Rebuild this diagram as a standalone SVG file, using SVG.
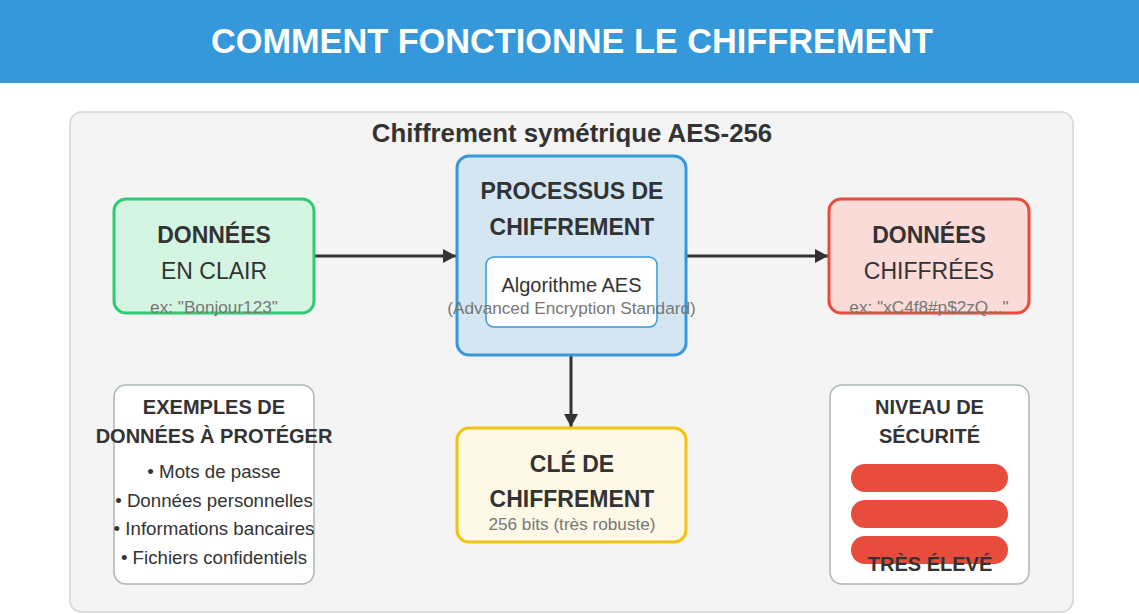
<svg xmlns="http://www.w3.org/2000/svg" width="1139" height="614" viewBox="0 0 1139 614">
<defs>
<marker id="ah" markerWidth="14" markerHeight="14" refX="13" refY="7" orient="auto" markerUnits="userSpaceOnUse"><path d="M0,0 L13,7 L0,14 Z" fill="#333"/></marker>
<style>
text{font-family:"Liberation Sans",Arial,sans-serif;text-anchor:middle;fill:#333}
.b{font-weight:bold}
.t22{font-size:23px}
.h20{font-size:20px}
.t18{font-size:18.7px}
.t16{font-size:17.2px}
.g{fill:#777}
.conn{stroke:#333;stroke-width:3;fill:none}
.card{fill:#fff;stroke:#aab5b6;stroke-width:1.5}
</style>
</defs>
<rect width="1139" height="614" fill="#fff"/>
<rect x="0" y="0" width="1139" height="83" fill="#3498db"/>
<text x="572" y="53" class="b" style="font-size:34.3px;fill:#fff">COMMENT FONCTIONNE LE CHIFFREMENT</text>
<rect x="70" y="112" width="1003" height="500" rx="12" fill="#f4f4f4" stroke="#ddd" stroke-width="2"/>
<text x="572" y="142" class="b" style="font-size:25.8px">Chiffrement symétrique AES-256</text>
<g id="connectors">
<line x1="314" y1="256" x2="456" y2="256" class="conn" marker-end="url(#ah)"/>
<line x1="686" y1="256" x2="828" y2="256" class="conn" marker-end="url(#ah)"/>
<line x1="571" y1="355" x2="571" y2="427" class="conn" marker-end="url(#ah)"/>
</g>
<g id="clair">
<rect x="114" y="199" width="200" height="114" rx="12" fill="#d5f5e3" stroke="#2ecc71" stroke-width="3"/>
<text x="214" y="243" class="b t22">DONNÉES</text>
<text x="214" y="279" class="t22">EN CLAIR</text>
<text x="214" y="313" class="t16 g">ex: "Bonjour123"</text>
</g>
<g id="processus">
<rect x="457" y="156" width="229" height="199" rx="12" fill="#d4e6f1" stroke="#3498db" stroke-width="3"/>
<text x="572" y="199" class="b t22">PROCESSUS DE</text>
<text x="572" y="235" class="b t22">CHIFFREMENT</text>
<rect x="486" y="257" width="171" height="70" rx="8" fill="#fff" stroke="#3498db" stroke-width="1.5"/>
<text x="571.5" y="292" class="h20">Algorithme AES</text>
<text x="571.5" y="314" class="t16 g">(Advanced Encryption Standard)</text>
</g>
<g id="chiffrees">
<rect x="829" y="199" width="200" height="114" rx="12" fill="#fadbd8" stroke="#e74c3c" stroke-width="3"/>
<text x="929" y="243" class="b t22">DONNÉES</text>
<text x="929" y="279" class="t22">CHIFFRÉES</text>
<text x="929" y="313" class="t16 g">ex: "xC4f8#p$2zQ..."</text>
</g>
<g id="cle">
<rect x="457" y="428" width="229" height="114" rx="12" fill="#fef9e7" stroke="#f1c40f" stroke-width="3"/>
<text x="572" y="472" class="b t22">CLÉ DE</text>
<text x="572" y="507" class="b t22">CHIFFREMENT</text>
<text x="572" y="530" class="t16 g">256 bits (très robuste)</text>
</g>
<g id="exemples">
<rect x="114" y="385" width="200" height="199" rx="12" class="card"/>
<text x="214" y="414" class="b h20">EXEMPLES DE</text>
<text x="214" y="443" class="b h20">DONNÉES À PROTÉGER</text>
<text x="214" y="478" class="t18">• Mots de passe</text>
<text x="214" y="507" class="t18">• Données personnelles</text>
<text x="214" y="535" class="t18">• Informations bancaires</text>
<text x="214" y="564" class="t18">• Fichiers confidentiels</text>
</g>
<g id="niveau">
<rect x="830" y="385" width="199" height="199" rx="12" class="card"/>
<text x="929.5" y="414" class="b h20">NIVEAU DE</text>
<text x="929.5" y="443" class="b h20">SÉCURITÉ</text>
<rect x="851" y="464" width="157" height="28" rx="14" fill="#e74c3c"/>
<rect x="851" y="500" width="157" height="28" rx="14" fill="#e74c3c"/>
<rect x="851" y="536" width="157" height="28" rx="14" fill="#e74c3c"/>
<text x="930" y="571" class="b h20">TRÈS ÉLEVÉ</text>
</g>
</svg>
